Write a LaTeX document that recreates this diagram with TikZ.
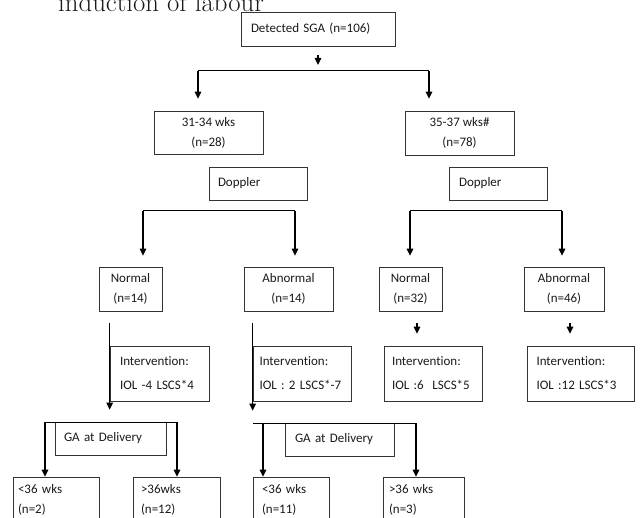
\documentclass[tikz,border=0pt]{standalone}
\usepackage{fontspec}
\newfontfamily\boxfont[Ligatures=NoCommon]{Carlito}
\usetikzlibrary{arrows.meta}

\begin{document}
\begin{tikzpicture}[x=1pt, y=-1pt,
  box/.style={draw=black!80, line width=0.7pt, rectangle, inner sep=0pt, text=black!90,
    font=\boxfont\fontsize{13}{20}\selectfont},
  cbox/.style={box, align=center},
  lbox/.style={box, align=left},
  arr/.style={line width=1.3pt, -{Triangle[length=7pt, width=6.5pt]}},
  hln/.style={line width=1pt}]
\useasboundingbox (0,0) rectangle (642,518);
\clip (0,0) rectangle (642,518);

\node[anchor=base west, inner sep=0pt, text=black!90, font=\fontsize{26.8}{30}\selectfont] (title) at (58,11.5) {induction of labour};

% top level
\node[lbox, minimum width=154pt, minimum height=34pt, text width=134pt] (sga) at (318,29) {Detected SGA (n=106)};
\node[cbox, minimum width=109pt, minimum height=43pt] (w3134) at (208.5,132.5) {31-34 wks\\(n=28)};
\node[cbox, minimum width=109pt, minimum height=44pt] (w3537) at (459.5,133) {35-37 wks\#\\(n=78)};
\node[lbox, minimum width=98pt, minimum height=33pt, text width=80pt] (dopL) at (258,183.5) {Doppler};
\node[lbox, minimum width=98pt, minimum height=33pt, text width=78pt] (dopR) at (498,183.5) {Doppler};

% doppler results
\node[cbox, minimum width=63pt, minimum height=44pt] (norL) at (130.5,289) {Normal\\(n=14)};
\node[cbox, minimum width=89pt, minimum height=44pt] (abnL) at (288.5,289) {Abnormal\\(n=14)};
\node[cbox, minimum width=63pt, minimum height=44pt] (norR) at (410.5,289) {Normal\\(n=32)};
\node[cbox, minimum width=80pt, minimum height=44pt] (abnR) at (564,289) {Abnormal\\(n=46)};

% interventions
\node[lbox, minimum width=99pt, minimum height=55pt, text width=79pt] (int1) at (159.5,373.5) {Intervention:\\[4pt]IOL -4 LSCS*4};
\node[lbox, minimum width=98pt, minimum height=55pt, text width=85pt] (int2) at (302,373.5) {Intervention:\\[4pt]IOL : 2 LSCS*-7};
\node[lbox, minimum width=98pt, minimum height=55pt, text width=82pt] (int3) at (433,373.5) {Intervention:\\[4pt]IOL :6 \ LSCS*5};
\node[lbox, minimum width=107pt, minimum height=55pt, text width=88pt] (int4) at (580.5,373.5) {Intervention:\\[4pt]IOL :12 LSCS*3};

% GA at delivery
\node[lbox, minimum width=111pt, minimum height=33pt, text width=93pt] (gaL) at (110.5,438.5) {GA at Delivery};
\node[lbox, minimum width=109pt, minimum height=33pt, text width=89pt] (gaR) at (339.5,439.5) {GA at Delivery};
\node[lbox, minimum width=86pt, minimum height=46pt, text width=76pt] (b1) at (56,500) {<36 wks\\(n=2)};
\node[lbox, minimum width=87pt, minimum height=46pt, text width=71pt] (b2) at (176.5,500) {>36wks\\(n=12)};
\node[lbox, minimum width=76pt, minimum height=46pt, text width=58pt] (b3) at (291,500) {<36 wks\\(n=11)};
\node[lbox, minimum width=81pt, minimum height=46pt, text width=69pt] (b4) at (423.5,500) {>36 wks\\(n=3)};

% branch points
\coordinate (topL) at (198,71);
\coordinate (topR) at (429,71);
\coordinate (dlL) at (143,211);
\coordinate (dlR) at (295,211);
\coordinate (drL) at (410,211);
\coordinate (drR) at (562,211);
\coordinate (glL) at (45,422);
\coordinate (glR) at (177,422);
\coordinate (grL) at (253,423);
\coordinate (grM) at (263,423);
\coordinate (grR) at (416,423);

\draw[arr, shorten <=9pt, shorten >=6pt] (sga.south) -- (sga.south |- topL);
\draw[hln] (topL) -- (topR);
\draw[arr, shorten >=12pt] (topL) -- (topL |- w3134.north);
\draw[arr, shorten >=12pt] (topR) -- (topR |- w3537.north);

\draw[hln] (dlL) -- (dlR);
\draw[arr, shorten >=11pt] (dlL) -- (dlL |- norL.north);
\draw[arr, shorten >=11pt] (dlR) -- (dlR |- abnL.north);
\draw[hln] (drL) -- (drR);
\draw[arr, shorten >=11pt] (drL) -- (drL |- norR.north);
\draw[arr, shorten >=11pt] (drR) -- (drR |- abnR.north);

\draw[arr, shorten <=12pt, shorten >=12pt] ([xshift=6.5pt]norR.south) -- ([xshift=6.5pt]norR.south |- int3.north);
\draw[arr, shorten <=12pt, shorten >=12pt] ([xshift=6pt]abnR.south) -- ([xshift=6pt]abnR.south |- int4.north);
\draw[arr, shorten <=12pt, shorten >=12pt] (norL.south -| int1.west) -- (int1.west |- gaL.north);
\draw[arr, shorten <=12pt, shorten >=12pt] (abnL.south -| int2.west) -- (int2.west |- gaR.north);

\draw[hln] (glL) -- (glR);
\draw[arr] (glL) -- (glL |- b1.north);
\draw[arr] (glR) -- (glR |- b2.north);
\draw[hln] (grL) -- (grR);
\draw[arr] (grM) -- (grM |- b3.north);
\draw[arr] (grR) -- (grR |- b4.north);
\end{tikzpicture}
\end{document}
